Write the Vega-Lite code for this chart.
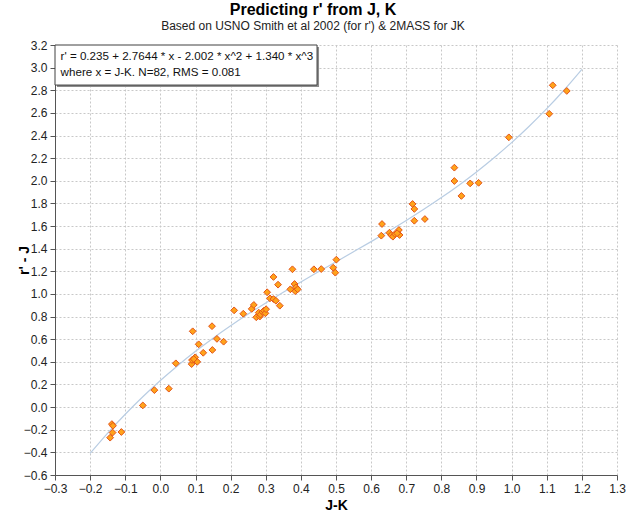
{
  "$schema": "https://vega.github.io/schema/vega-lite/v6.json",
  "autosize": "none",
  "width": 562,
  "height": 430,
  "padding": {"left": 55, "top": 45, "right": 9, "bottom": 40},
  "background": "white",
  "config": {
    "font": "Liberation Sans",
    "view": {"stroke": null},
    "axis": {
      "labelFont": "Liberation Sans",
      "labelFontSize": 12,
      "labelColor": "#222222",
      "titleFont": "Liberation Sans",
      "titleFontSize": 14,
      "titleFontWeight": "bold",
      "titleColor": "#000000",
      "domainColor": "#555555",
      "tickColor": "#555555",
      "tickSize": 5,
      "grid": true,
      "gridColor": "#c8c8c8",
      "gridDash": [2, 2],
      "gridWidth": 1
    }
  },
  "title": {
    "text": "Predicting r' from J, K",
    "subtitle": "Based on USNO Smith et al 2002 (for r') & 2MASS for JK",
    "font": "Liberation Sans",
    "fontSize": 16,
    "fontWeight": "bold",
    "color": "#000000",
    "subtitleFont": "Liberation Sans",
    "subtitleFontSize": 12,
    "subtitleColor": "#222222",
    "subtitlePadding": 3,
    "anchor": "middle",
    "dx": -23,
    "offset": 7
  },
  "datasets": {
    "stars": [
      {"jk": -0.143, "rj": -0.27},
      {"jk": -0.138, "rj": -0.15},
      {"jk": -0.135, "rj": -0.165},
      {"jk": -0.136, "rj": -0.225},
      {"jk": -0.111, "rj": -0.22},
      {"jk": -0.05, "rj": 0.015},
      {"jk": -0.017, "rj": 0.15},
      {"jk": 0.024, "rj": 0.163},
      {"jk": 0.044, "rj": 0.387},
      {"jk": 0.089, "rj": 0.38},
      {"jk": 0.09, "rj": 0.416},
      {"jk": 0.099, "rj": 0.44},
      {"jk": 0.105, "rj": 0.4},
      {"jk": 0.095, "rj": 0.425},
      {"jk": 0.092, "rj": 0.67},
      {"jk": 0.109, "rj": 0.555},
      {"jk": 0.122, "rj": 0.48},
      {"jk": 0.147, "rj": 0.715},
      {"jk": 0.148, "rj": 0.505},
      {"jk": 0.161, "rj": 0.603},
      {"jk": 0.18, "rj": 0.578},
      {"jk": 0.21, "rj": 0.855},
      {"jk": 0.236, "rj": 0.825},
      {"jk": 0.26, "rj": 0.868},
      {"jk": 0.266, "rj": 0.903},
      {"jk": 0.273, "rj": 0.794},
      {"jk": 0.28, "rj": 0.835},
      {"jk": 0.283, "rj": 0.8},
      {"jk": 0.285, "rj": 0.817},
      {"jk": 0.291, "rj": 0.841},
      {"jk": 0.295, "rj": 0.853},
      {"jk": 0.299, "rj": 0.829},
      {"jk": 0.301, "rj": 0.865},
      {"jk": 0.304, "rj": 1.015},
      {"jk": 0.312, "rj": 0.961},
      {"jk": 0.322, "rj": 1.15},
      {"jk": 0.335, "rj": 1.082},
      {"jk": 0.322, "rj": 0.955},
      {"jk": 0.329, "rj": 0.94},
      {"jk": 0.34, "rj": 0.896},
      {"jk": 0.376, "rj": 1.218},
      {"jk": 0.37, "rj": 1.041},
      {"jk": 0.382, "rj": 1.088},
      {"jk": 0.386, "rj": 1.059},
      {"jk": 0.384, "rj": 1.024},
      {"jk": 0.391, "rj": 1.041},
      {"jk": 0.437, "rj": 1.218},
      {"jk": 0.458, "rj": 1.22},
      {"jk": 0.492, "rj": 1.232},
      {"jk": 0.501, "rj": 1.303},
      {"jk": 0.498, "rj": 1.188},
      {"jk": 0.631, "rj": 1.618},
      {"jk": 0.629, "rj": 1.515},
      {"jk": 0.652, "rj": 1.541},
      {"jk": 0.657, "rj": 1.521},
      {"jk": 0.662, "rj": 1.506},
      {"jk": 0.668, "rj": 1.53},
      {"jk": 0.679, "rj": 1.565},
      {"jk": 0.681, "rj": 1.521},
      {"jk": 0.674, "rj": 1.536},
      {"jk": 0.718, "rj": 1.795},
      {"jk": 0.723, "rj": 1.751},
      {"jk": 0.723, "rj": 1.647},
      {"jk": 0.753, "rj": 1.662},
      {"jk": 0.837, "rj": 2.116},
      {"jk": 0.837, "rj": 1.998},
      {"jk": 0.857, "rj": 1.866},
      {"jk": 0.882, "rj": 1.977},
      {"jk": 0.906, "rj": 1.982},
      {"jk": 0.992, "rj": 2.384},
      {"jk": 1.107, "rj": 2.592},
      {"jk": 1.117, "rj": 2.844},
      {"jk": 1.157, "rj": 2.794}
    ],
    "fit": [
      {"jk": -0.2, "rj": -0.4087},
      {"jk": -0.15, "rj": -0.2292},
      {"jk": -0.1, "rj": -0.0628},
      {"jk": -0.05, "rj": 0.0916},
      {"jk": 0.0, "rj": 0.235},
      {"jk": 0.05, "rj": 0.3684},
      {"jk": 0.1, "rj": 0.4928},
      {"jk": 0.15, "rj": 0.6091},
      {"jk": 0.2, "rj": 0.7185},
      {"jk": 0.25, "rj": 0.8219},
      {"jk": 0.3, "rj": 0.9203},
      {"jk": 0.35, "rj": 1.0147},
      {"jk": 0.4, "rj": 1.1062},
      {"jk": 0.45, "rj": 1.1957},
      {"jk": 0.5, "rj": 1.2842},
      {"jk": 0.55, "rj": 1.3728},
      {"jk": 0.6, "rj": 1.4624},
      {"jk": 0.65, "rj": 1.554},
      {"jk": 0.7, "rj": 1.6487},
      {"jk": 0.75, "rj": 1.7475},
      {"jk": 0.8, "rj": 1.8513},
      {"jk": 0.85, "rj": 1.9612},
      {"jk": 0.9, "rj": 2.0782},
      {"jk": 0.95, "rj": 2.2033},
      {"jk": 1.0, "rj": 2.3374},
      {"jk": 1.05, "rj": 2.4818},
      {"jk": 1.1, "rj": 2.637},
      {"jk": 1.15, "rj": 2.8045},
      {"jk": 1.2, "rj": 2.985}
    ]
  },
  "layer": [
    {
      "data": {"name": "fit"},
      "mark": {"type": "line", "color": "#b9cde3", "strokeWidth": 1.2, "interpolate": "monotone"},
      "encoding": {
        "x": {
          "field": "jk",
          "type": "quantitative",
          "title": "J-K",
          "scale": {"domain": [-0.3, 1.3], "nice": false, "zero": false},
          "axis": {
            "values": [-0.3, -0.2, -0.1, 0, 0.1, 0.2, 0.3, 0.4, 0.5, 0.6, 0.7, 0.8, 0.9, 1.0, 1.1, 1.2, 1.3],
            "tickCount": 40,
            "format": ".1f",
            "labelOverlap": false,
            "labelFlush": false,
            "labelBound": false,
            "titlePadding": 4,
            "labelPadding": 3
          }
        },
        "y": {
          "field": "rj",
          "type": "quantitative",
          "title": "r' - J",
          "scale": {"domain": [-0.6, 3.2], "nice": false, "zero": false},
          "axis": {
            "values": [-0.6, -0.4, -0.2, 0, 0.2, 0.4, 0.6, 0.8, 1.0, 1.2, 1.4, 1.6, 1.8, 2.0, 2.2, 2.4, 2.6, 2.8, 3.0, 3.2],
            "tickCount": 40,
            "format": ".1f",
            "labelOverlap": false,
            "labelFlush": false,
            "labelBound": false,
            "titleX": -24,
            "titleY": 215,
            "labelPadding": 3
          }
        }
      }
    },
    {
      "data": {"name": "stars"},
      "mark": {"type": "point", "shape": "diamond", "filled": true, "size": 46, "fill": "#ffa31a", "stroke": "#e3541a", "strokeWidth": 1, "opacity": 1},
      "encoding": {
        "x": {"field": "jk", "type": "quantitative"},
        "y": {"field": "rj", "type": "quantitative"}
      }
    },
    {
      "data": {"values": [{}]},
      "mark": {"type": "rect", "fill": "#8c8c8c", "xOffset": 2, "x2Offset": 2, "yOffset": 2, "y2Offset": 2},
      "encoding": {
        "x": {"datum": -0.3},
        "x2": {"datum": 0.446},
        "y": {"datum": 3.2},
        "y2": {"datum": 2.846}
      }
    },
    {
      "data": {"values": [{}]},
      "mark": {"type": "rect", "fill": "white", "stroke": "#404040", "strokeWidth": 1},
      "encoding": {
        "x": {"datum": -0.3},
        "x2": {"datum": 0.446},
        "y": {"datum": 3.2},
        "y2": {"datum": 2.846}
      }
    },
    {
      "data": {"values": [{}]},
      "mark": {
        "type": "text",
        "align": "left",
        "baseline": "top",
        "font": "Liberation Sans",
        "fontSize": 11.6,
        "lineHeight": 16,
        "color": "#111111",
        "text": ["r' = 0.235 + 2.7644 * x - 2.002 * x^2 + 1.340 * x^3", "where x = J-K.  N=82, RMS = 0.081"]
      },
      "encoding": {
        "x": {"datum": -0.284},
        "y": {"datum": 3.145}
      }
    }
  ]
}
